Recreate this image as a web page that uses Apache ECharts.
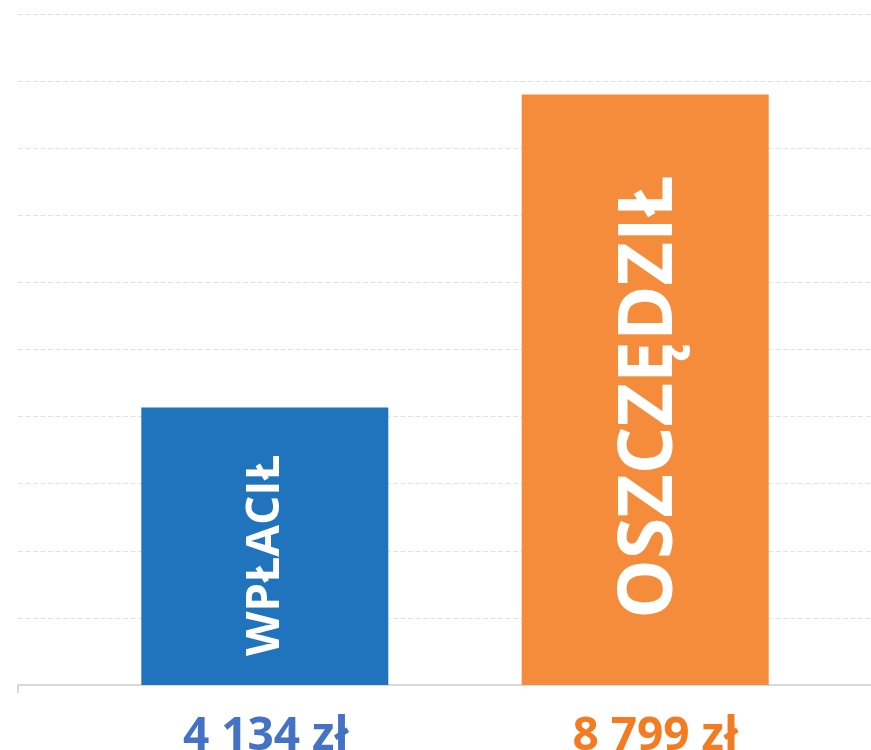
<!DOCTYPE html>
<html>
<head>
<meta charset="utf-8">
<script src="https://cdn.jsdelivr.net/npm/echarts@6/dist/echarts.min.js"></script>
<style>
  html, body { margin: 0; padding: 0; background: #fff; }
  #chart { width: 871px; height: 750px; }
</style>
</head>
<body>
<div id="chart"></div>
<script>
const names = ['WPŁACIŁ', 'OSZCZĘDZIŁ'];
const values = [4134, 8799];
const valueLabels = ['4 134 zł', '8 799 zł'];
const barColors = ['#1f74bd', '#f58c3b'];
const labelColors = ['#4472c4', '#f47b20'];
const nameSizes = [46, 75];
const nameOffsets = [[-9, 1], [-7, 5]];   // rotated frame: [along text, across]
const valueOffsets = [[1, 0], [10, 0]];

const chart = echarts.init(document.getElementById('chart'));

// each bar: a zero-height base carrying the value label below the axis,
// and the real bar stacked on it with the rotated name inside
const series = [];
names.forEach((name, i) => {
  series.push({
    type: 'bar',
    stack: 's' + i,
    barWidth: 247,
    barGap: '54%',
    data: [0],
    silent: true,
    itemStyle: { color: 'transparent' },
    label: {
      show: true,
      position: 'bottom',
      distance: 29,
      offset: valueOffsets[i],
      formatter: valueLabels[i],
      color: labelColors[i],
      fontFamily: 'Open Sans',
      fontWeight: 'bold',
      fontSize: 46
    }
  });
  series.push({
    type: 'bar',
    name: name,
    stack: 's' + i,
    barWidth: 247,
    barGap: '54%',
    data: [values[i]],
    itemStyle: { color: barColors[i] },
    label: {
      show: true,
      position: 'inside',
      rotate: 90,
      offset: nameOffsets[i],
      formatter: name,
      color: '#fff',
      fontFamily: 'Open Sans',
      fontWeight: 'bold',
      fontSize: nameSizes[i]
    }
  });
});

chart.setOption({
  animation: false,
  grid: { left: 18, top: 14, bottom: 65, width: 874, outerBoundsMode: 'none' },
  xAxis: {
    type: 'category',
    data: [''],
    axisLine: { lineStyle: { color: '#d9d9d9', width: 2 } },
    axisTick: { show: true, length: 8, lineStyle: { color: '#d9d9d9', width: 2 } },
    axisLabel: { show: false }
  },
  yAxis: {
    type: 'value',
    min: 0,
    max: 10000,
    interval: 1000,
    axisLine: { show: false },
    axisTick: { show: false },
    axisLabel: { show: false },
    splitLine: { lineStyle: { color: '#e2e2e2', width: 1, type: [5, 2.5] } }
  },
  series: series
});
</script>
</body>
</html>
